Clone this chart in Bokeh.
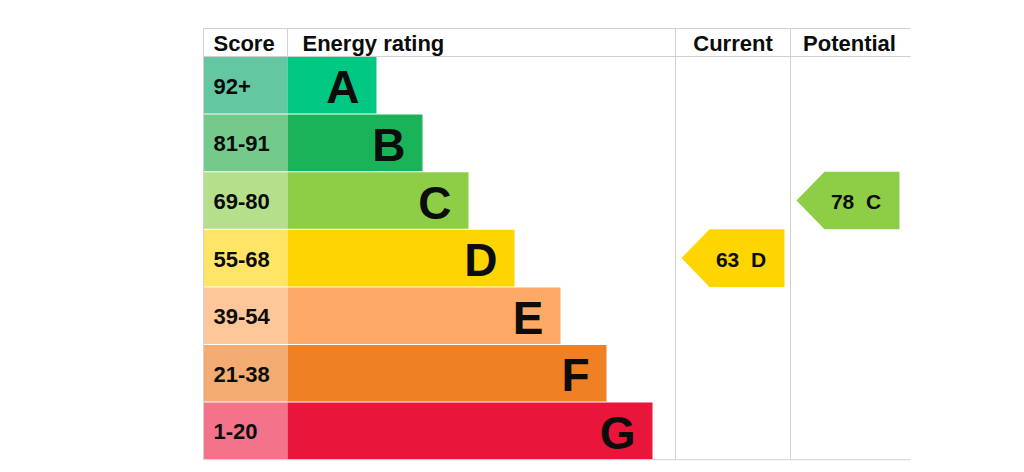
from bokeh.plotting import figure
from bokeh.models import Range1d
from bokeh.core.properties import value
from bokeh.embed import file_html
from bokeh.resources import INLINE

# ---- data ----
ratings = ["A", "B", "C", "D", "E", "F", "G"]
score_bands = ["92+", "81-91", "69-80", "55-68", "39-54", "21-38", "1-20"]
band_min = [92, 81, 69, 55, 39, 21, 1]
bar_colors = ["#00c781", "#1bb35a", "#8dce46", "#ffd500", "#fcaa65", "#ef8023", "#e9153b"]
score_colors = ["#63c7a1", "#73ca8b", "#b6df8b", "#ffe566", "#fdc79a", "#f4ac72", "#f2738a"]
headers = ["Score", "Energy rating", "Current", "Potential"]
current_score = 63
potential_score = 78

# ---- layout (page pixels) ----
FONT = value("Liberation Sans")
TOP, HEAD_H, ROW_H = 28, 28, 57.6
LEFT, SCORE_R, RATE_R, CUR_R, POT_R = 203, 287, 675, 790, 910
BAR0, BAR_STEP = 376, 46
GRID = "#d0d0d0"
TXT = "#0b0c0c"

n = len(ratings)
row_top = [TOP + HEAD_H + ROW_H * i for i in range(n)]
row_mid = [t + ROW_H / 2 for t in row_top]
bottom = TOP + HEAD_H + ROW_H * n
bar_end = [BAR0 + BAR_STEP * i for i in range(n)]

W, H = 1016, 464
p = figure(width=W, height=H, output_backend="svg", toolbar_location=None,
           x_range=Range1d(0, W), y_range=Range1d(H, 0),
           x_axis_location=None, y_axis_location=None, min_border=0)
p.outline_line_color = None
p.grid.visible = False
p.background_fill_color = "white"
p.border_fill_color = "white"

# score cells
p.quad(left=[LEFT] * n, right=[SCORE_R] * n,
       top=[t + 0.5 for t in row_top], bottom=[t + ROW_H - 0.5 for t in row_top],
       fill_color=score_colors, line_color=None)
# energy bars
p.quad(left=[SCORE_R] * n, right=bar_end,
       top=[t + 0.5 for t in row_top], bottom=[t + ROW_H - 0.5 for t in row_top],
       fill_color=bar_colors, line_color=None)

# grid lines
p.segment(x0=[LEFT, LEFT, LEFT], x1=[POT_R, POT_R, POT_R],
          y0=[TOP, TOP + HEAD_H, bottom], y1=[TOP, TOP + HEAD_H, bottom],
          line_color=GRID, line_width=1)
p.segment(x0=[LEFT, SCORE_R, RATE_R, CUR_R], x1=[LEFT, SCORE_R, RATE_R, CUR_R],
          y0=[TOP] * 4, y1=[bottom, TOP + HEAD_H, bottom, bottom],
          line_color=GRID, line_width=1)

# headers
p.text(x=[LEFT + 10, SCORE_R + 15], y=[TOP + HEAD_H / 2 + 1] * 2, text=headers[:2],
       text_font=FONT, text_font_style="bold", text_font_size="22px",
       text_align="left", text_baseline="middle", text_color=TXT)
p.text(x=[(RATE_R + CUR_R) / 2, (CUR_R + POT_R) / 2 - 1], y=[TOP + HEAD_H / 2 + 1] * 2,
       text=headers[2:], text_font=FONT, text_font_style="bold", text_font_size="22px",
       text_align="center", text_baseline="middle", text_color=TXT)

# score labels
p.text(x=[LEFT + 10] * n, y=[m + 1 for m in row_mid], text=score_bands,
       text_font=FONT, text_font_style="bold", text_font_size="22px",
       text_align="left", text_baseline="middle", text_color=TXT)
# rating letters
p.text(x=[e - 17 for e in bar_end], y=[m + 2 for m in row_mid], text=ratings,
       text_font=FONT, text_font_style="bold", text_font_size="46px",
       text_align="right", text_baseline="middle", text_color=TXT)


def band_of(score):
    for i, m in enumerate(band_min):
        if score >= m:
            return i
    return n - 1


def arrow(score, col_left):
    i = band_of(score)
    l, r = col_left + 6, col_left + 109
    t, b = row_top[i], row_top[i] + ROW_H
    xs = [l, l + 28, r, r, l + 28]
    ys = [(t + b) / 2, t, t, b, b]
    p.patch(xs, ys, fill_color=bar_colors[i], line_color=None)
    p.text(x=[(l + r) / 2 + 8], y=[(t + b) / 2 + 1],
           text=[f"{score}\u00a0\u00a0{ratings[i]}"],
           text_font=FONT, text_font_style="bold", text_font_size="21px",
           text_align="center", text_baseline="middle", text_color=TXT)


arrow(current_score, RATE_R)
arrow(potential_score, CUR_R)

open("out.html", "w").write(file_html(p, INLINE))
